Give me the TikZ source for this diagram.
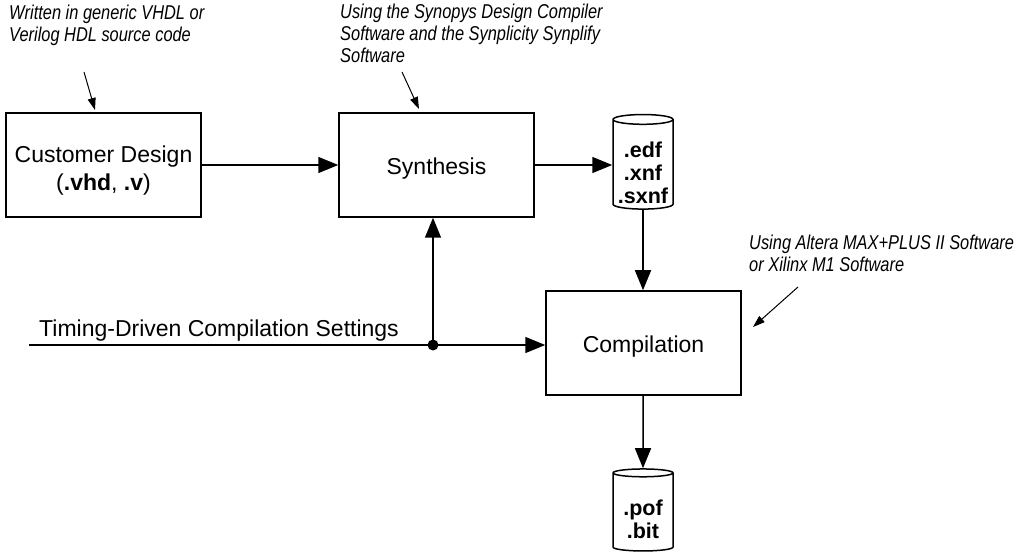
\documentclass[tikz,border=0pt]{standalone}
\usepackage{fontspec}
\setmainfont{Liberation Sans}
\newfontfamily\notefont[FakeStretch=0.82]{Liberation Sans}
\usetikzlibrary{arrows.meta,positioning,shapes.geometric}

\begin{document}
\begin{tikzpicture}[
    x=1pt, y=-1pt,
    font=\fontsize{23}{27.5}\selectfont,
    box/.style={draw, line width=1.5pt, minimum width=195pt, minimum height=104pt, align=center},
    store/.style={draw, line width=1.5pt, cylinder, shape border rotate=90, aspect=0.18,
        minimum width=60pt, align=center, inner sep=2pt,
        font=\fontsize{21.5}{23}\selectfont\bfseries},
    arrow/.style={line width=1.5pt, -{Triangle[length=20pt,width=16pt]}},
    note/.style={font=\notefont\itshape\fontsize{20}{22}\selectfont, align=left, inner sep=0pt, anchor=north west},
    pointer/.style={line width=1pt, -{Triangle[length=12pt,width=8pt]}}
]
    \useasboundingbox (0,0) rectangle (1029,556);

    % Design flow (the struts push each label a little below the middle)
    \node[box] (design) at (103.5,165) {\rule{0pt}{27.3pt}Customer Design\\(\textbf{.vhd}, \textbf{.v})};
    \node[box] (synth) at (436.5,165) {\rule{0pt}{24.3pt}Synthesis};
    \node[store, minimum height=85pt] (netlist) at (643,165.5) {\rule{0pt}{30.7pt}.edf\\.xnf\\.sxnf};
    \node[box] (compile) at (643.5,343) {\rule{0pt}{23.3pt}Compilation};
    \node[store, minimum height=82pt] (prog) at (643,513) {\rule{0pt}{28.7pt}.pof\\.bit};

    % Timing settings input
    \coordinate (tstart) at (29,345);
    \coordinate (split) at (433,345);
    \node[anchor=base west, inner sep=0pt] (tlabel) at (39,336.5) {Timing-Driven Compilation Settings};

    % Notes
    \node[note] (vhdlnote) at (9,5) {Written in generic VHDL or\\Verilog HDL source code};
    \node[note] (synnote) at (340,4) {Using the Synopys Design Compiler\\Software and the Synplicity Synplify\\Software};
    \node[note] (fitnote) at (749,235) {Using Altera MAX+PLUS II Software\\or Xilinx M1 Software};
    \coordinate (vhdltail) at (84,72);
    \coordinate (vhdltip) at (95,110);
    \coordinate (syntail) at (402,72);
    \coordinate (syntip) at (419,109);
    \coordinate (fittail) at (798,287);
    \coordinate (fittip) at (753,327);

    % Connections
    \draw[arrow] (design) -- (synth);
    \draw[arrow] (synth.east) -- (synth.east -| netlist.west);
    \draw[arrow] (netlist) -- (netlist |- compile.north);
    \draw[arrow] (netlist |- compile.south) -- (prog);
    \draw[line width=1.5pt] (tstart) -- (split);
    \draw[arrow] (split) -- (split -| compile.west);
    \draw[arrow] (split) -- (split |- synth.south);
    \fill (split) circle (5.5pt);

    \draw[pointer] (vhdltail) -- (vhdltip);
    \draw[pointer] (syntail) -- (syntip);
    \draw[pointer] (fittail) -- (fittip);
\end{tikzpicture}
\end{document}
